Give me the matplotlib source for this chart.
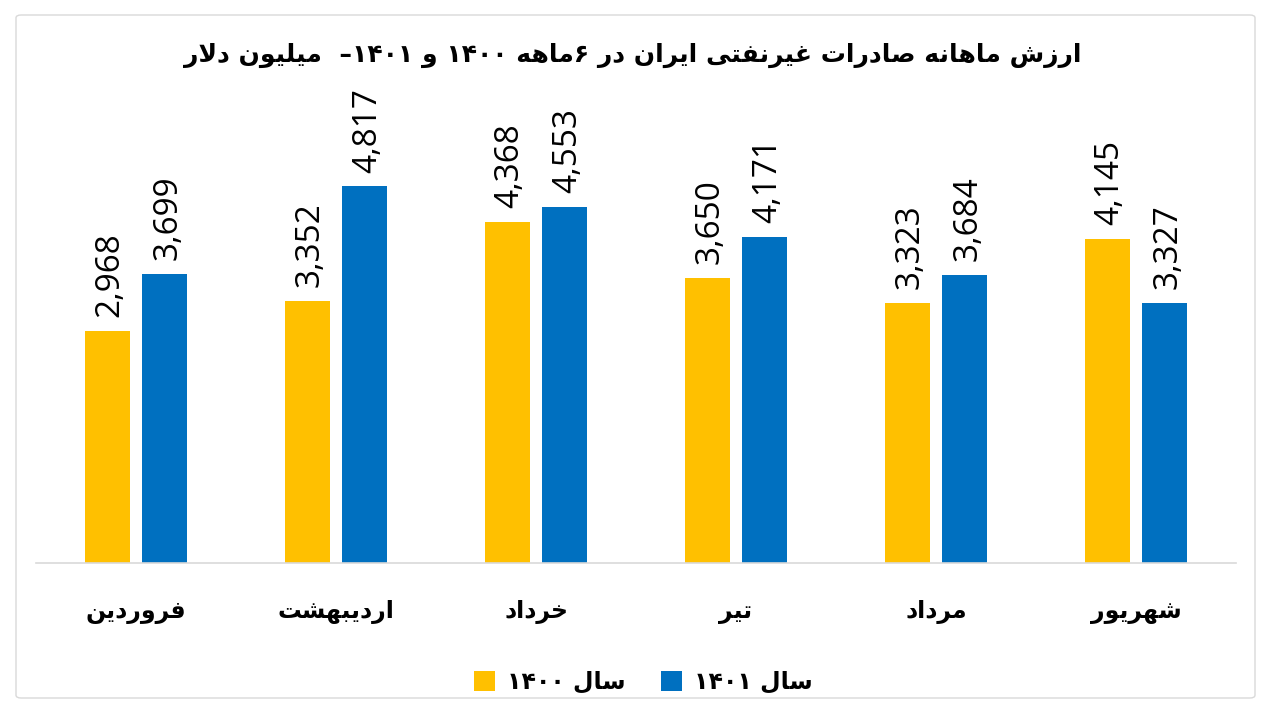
import matplotlib
matplotlib.use("Agg")
import matplotlib.pyplot as plt
from matplotlib.patches import FancyBboxPatch

# ---- data ----
months = ["فروردین", "اردیبهشت", "خرداد", "تیر", "مرداد", "شهریور"]
vals_1400 = [2968, 3352, 4368, 3650, 3323, 4145]
vals_1401 = [3699, 4817, 4553, 4171, 3684, 3327]
series_names = ["سال ۱۴۰۰", "سال ۱۴۰۱"]
title = "ارزش ماهانه صادرات غیرنفتی ایران در ۶ماهه ۱۴۰۰ و ۱۴۰۱–  میلیون دلار"

# ---- simple persian shaping (matplotlib has no bidi / joining) ----
# letter: (isolated, final, initial, medial); None initial => joins only to the right
FORMS = {
    "ا": (0xFE8D, 0xFE8E, None, None),
    "ب": (0xFE8F, 0xFE90, 0xFE91, 0xFE92),
    "ت": (0xFE95, 0xFE96, 0xFE97, 0xFE98),
    "خ": (0xFEA5, 0xFEA6, 0xFEA7, 0xFEA8),
    "د": (0xFEA9, 0xFEAA, None, None),
    "ر": (0xFEAD, 0xFEAE, None, None),
    "ز": (0xFEAF, 0xFEB0, None, None),
    "س": (0xFEB1, 0xFEB2, 0xFEB3, 0xFEB4),
    "ش": (0xFEB5, 0xFEB6, 0xFEB7, 0xFEB8),
    "ص": (0xFEB9, 0xFEBA, 0xFEBB, 0xFEBC),
    "غ": (0xFECD, 0xFECE, 0xFECF, 0xFED0),
    "ف": (0xFED1, 0xFED2, 0xFED3, 0xFED4),
    "ل": (0xFEDD, 0xFEDE, 0xFEDF, 0xFEE0),
    "م": (0xFEE1, 0xFEE2, 0xFEE3, 0xFEE4),
    "ن": (0xFEE5, 0xFEE6, 0xFEE7, 0xFEE8),
    "ه": (0xFEE9, 0xFEEA, 0xFEEB, 0xFEEC),
    "و": (0xFEED, 0xFEEE, None, None),
    "ی": (0xFBFC, 0xFBFD, 0xFBFE, 0xFBFF),
}


def shape_word(s):
    out = []
    n = len(s)
    i = 0
    while i < n:
        c = s[i]
        if c not in FORMS:
            out.append(c)
            i += 1
            continue
        prev = s[i - 1] if i > 0 else ""
        joins_prev = prev in FORMS and FORMS[prev][2] is not None
        # lam-alef ligature
        if c == "ل" and i + 1 < n and s[i + 1] == "ا":
            out.append(chr(0xFEFC if joins_prev else 0xFEFB))
            i += 2
            continue
        nxt = s[i + 1] if i + 1 < n else ""
        joins_next = FORMS[c][2] is not None and nxt in FORMS
        iso, fin, ini, med = FORMS[c]
        if joins_prev and joins_next:
            g = med
        elif joins_prev:
            g = fin
        elif joins_next:
            g = ini
        else:
            g = iso
        out.append(chr(g))
        i += 1
    return "".join(out)


def is_ltr(c):
    return c.isdigit() or c.isascii() and c.isalnum()


def fa(text):
    shaped = shape_word(text)
    runs = []
    for c in shaped:
        kind = is_ltr(c)
        if runs and runs[-1][0] == kind:
            runs[-1][1].append(c)
        else:
            runs.append([kind, [c]])
    parts = []
    for kind, chars in reversed(runs):
        parts.append("".join(chars) if kind else "".join(reversed(chars)))
    return "".join(parts)


yellow = "#FFC000"
blue = "#0070C0"

fig = plt.figure(figsize=(12.8, 7.16), dpi=100)
ax = fig.add_axes([36 / 1280, 1 - 563 / 716, 1200 / 1280, 469 / 716])

x = list(range(len(months)))
w = 0.225
off = 0.144
b1 = ax.bar([i - off for i in x], vals_1400, width=w, color=yellow, label=fa(series_names[0]))
b2 = ax.bar([i + off for i in x], vals_1401, width=w, color=blue, label=fa(series_names[1]))

for bars, vals in ((b1, vals_1400), (b2, vals_1401)):
    for r, v in zip(bars, vals):
        ax.annotate(f"{v:,}", (r.get_x() + r.get_width() / 2, v), xytext=(2, 10),
                    textcoords="offset points", rotation=90, ha="center", va="bottom",
                    fontsize=24, family="Open Sans", color="#000000")

ax.set_xlim(-0.5, 5.5)
ax.set_ylim(0, 6000)
for s in ["top", "right", "left"]:
    ax.spines[s].set_visible(False)
ax.spines["bottom"].set_color("#D9D9D9")
ax.spines["bottom"].set_linewidth(1.2)
ax.set_yticks([])
ax.set_xticks(x)
ax.set_xticklabels([fa(m) for m in months], fontsize=17, fontweight="bold", family="DejaVu Sans")
ax.tick_params(axis="x", length=0, pad=27)

fig.text(633 / 1280, 1 - 55 / 716, fa(title), ha="center", va="center",
         fontsize=18, fontweight="bold", family="DejaVu Sans")

leg = fig.legend(loc="center", bbox_to_anchor=(643 / 1280, 1 - 682 / 716), ncol=2, frameon=False,
                 prop={"family": "DejaVu Sans", "weight": "bold", "size": 17},
                 handlelength=0.9, handleheight=0.9, columnspacing=1.5, handletextpad=0.5)

# outer light border
fig.patches.append(FancyBboxPatch((16 / 1280, 1 - 698 / 716), 1239 / 1280, 683 / 716,
                                  boxstyle="round,pad=0,rounding_size=0.004", transform=fig.transFigure,
                                  fill=False, edgecolor="#D9D9D9", linewidth=1))

plt.savefig("out.png", dpi=100)
